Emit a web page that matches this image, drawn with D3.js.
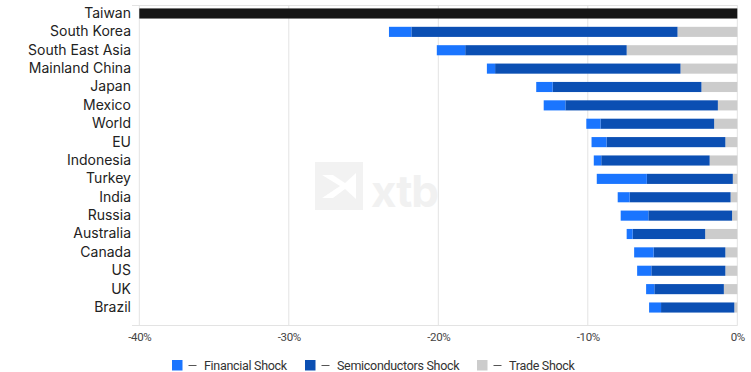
<!DOCTYPE html>
<html>
<head>
<meta charset="utf-8">
<script src="https://cdn.jsdelivr.net/npm/d3@7"></script>
<style>
    body { margin: 0; background: #fff; }
    svg { display: block; font-family: Inter, "Open Sans", sans-serif; }
</style>
</head>
<body>
<svg width="751" height="372"></svg>
<script>
// data (percent change, shown negative)
const countries = ["Taiwan", "South Korea", "South East Asia", "Mainland China", "Japan", "Mexico",
    "World", "EU", "Indonesia", "Turkey", "India", "Russia", "Australia", "Canada", "US", "UK", "Brazil"];
const financialShock = [0, 1.5, 1.9, 0.55, 1.1, 1.45, 0.95, 1.0, 0.5, 3.35, 0.8, 1.85, 0.4, 1.3, 0.95, 0.55, 0.8];
const semiconductorsShock = [0, 17.8, 10.8, 12.4, 9.95, 10.2, 7.6, 7.95, 7.25, 5.75, 6.75, 5.6, 4.85, 4.8, 4.95, 4.65, 4.9];
const tradeShock = [0, 4.0, 7.4, 3.8, 2.4, 1.3, 1.55, 0.8, 1.85, 0.3, 0.45, 0.35, 2.15, 0.8, 0.8, 0.9, 0.2];
const taiwanTotal = 40; // runs off the left edge of the chart
const xTicks = [-40, -30, -20, -10, 0];
const seriesNames = ["Financial Shock", "Semiconductors Shock", "Trade Shock"];
const seriesColors = ["#1a75ff", "#0b4fb3", "#cccccc"];

const svg = d3.select("svg");

const x = d3.scaleLinear().domain([-40, 0]).range([139.3, 737.3]);
const y = d3.scaleBand().domain(countries).range([4.3, 316.7]).paddingInner(0.45).paddingOuter(0.225);

// stacked rows, trade sits next to zero, then semis, then financial
const rows = countries.map((c, i) => ({
    country: c,
    trade: -tradeShock[i],
    semis: -semiconductorsShock[i],
    fin: -financialShock[i]
}));
const stack = d3.stack()
    .keys(["trade", "semis", "fin"])
    .offset(d3.stackOffsetDiverging);
const layers = stack(rows);
const colorOf = { fin: seriesColors[0], semis: seriesColors[1], trade: seriesColors[2] };

// watermark
const wm = svg.append("g").attr("class", "watermark");
wm.append("rect")
    .attr("x", 315).attr("y", 162).attr("width", 48).attr("height", 48)
    .attr("fill", "#f2f2f2");
wm.append("path")
    .attr("d", "M322,175 L340,186 L322,198 L333,198 L345,189 L356,199 L356,173 L345,183 L333,175 Z")
    .attr("fill", "#fff");
wm.append("text")
    .attr("x", 371).attr("y", 207)
    .attr("font-size", 44).attr("font-weight", 700)
    .attr("letter-spacing", -1)
    .attr("fill", "#f1f1f1")
    .text("xtb");

// grid
const grid = svg.append("g").attr("class", "grid");
grid.selectAll("line.v")
    .data(xTicks)
    .enter().append("line")
    .attr("class", "v")
    .attr("x1", d => x(d)).attr("x2", d => x(d))
    .attr("y1", 5.5).attr("y2", 325.5)
    .attr("stroke", "#e3e3e3");
grid.append("line")
    .attr("x1", 132).attr("x2", 737.5)
    .attr("y1", 5.5).attr("y2", 5.5)
    .attr("stroke", "#e3e3e3");

// bars
svg.append("g")
    .selectAll("g")
    .data(layers)
    .enter().append("g")
    .attr("fill", d => colorOf[d.key])
    .selectAll("rect")
    .data(d => d)
    .enter().append("rect")
    .attr("x", d => x(d[0]))
    .attr("width", d => Math.abs(x(d[1]) - x(d[0])))
    .attr("y", d => y(d.data.country))
    .attr("height", y.bandwidth());

svg.append("rect")
    .attr("x", x(-taiwanTotal))
    .attr("width", x(0) - x(-taiwanTotal))
    .attr("y", y("Taiwan"))
    .attr("height", y.bandwidth())
    .attr("fill", "#151515");

// category labels
const yAxis = svg.append("g")
    .attr("transform", "translate(131,0)")
    .call(d3.axisLeft(y).tickSize(0).tickPadding(0));
yAxis.select(".domain").remove();
yAxis.selectAll("text")
    .attr("font-family", "Inter, sans-serif")
    .attr("font-size", 14)
    .attr("fill", "#222");

// bottom axis
svg.append("line")
    .attr("x1", 132).attr("x2", 737.5)
    .attr("y1", 325.5).attr("y2", 325.5)
    .attr("stroke", "#e3e3e3");
const xAxis = svg.append("g")
    .attr("transform", "translate(0,326)")
    .call(d3.axisBottom(x).tickValues(xTicks).tickFormat(d => d + "%").tickSize(0).tickPadding(7));
xAxis.select(".domain").remove();
xAxis.selectAll("text")
    .attr("font-family", "Roboto, sans-serif")
    .attr("font-size", 11.5)
    .attr("letter-spacing", -0.4)
    .attr("fill", "#444");

// legend
const legendX = [172, 305, 477];
const legend = svg.append("g").attr("class", "legend")
    .selectAll("g")
    .data(seriesNames)
    .enter().append("g")
    .attr("transform", (d, i) => `translate(${legendX[i]},360)`);
legend.append("rect")
    .attr("width", 10.5).attr("height", 10.5)
    .attr("fill", (d, i) => seriesColors[i]);
legend.append("line")
    .attr("x1", 16.5).attr("x2", 24.5)
    .attr("y1", 5.5).attr("y2", 5.5)
    .attr("stroke", "#555");
legend.append("text")
    .attr("x", 32).attr("y", 9.5)
    .attr("font-family", "Roboto, sans-serif")
    .attr("font-size", 12.5)
    .attr("letter-spacing", -0.3)
    .attr("fill", "#333")
    .text(d => d);
</script>
</body>
</html>
